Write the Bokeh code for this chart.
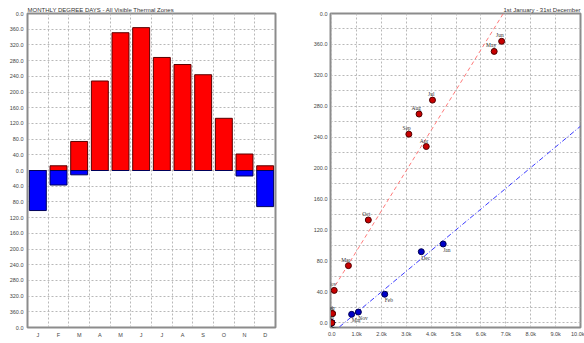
import numpy as np
from bokeh.plotting import figure
from bokeh.layouts import row
from bokeh.models import ColumnDataSource, FixedTicker, LabelSet, Range1d
from bokeh.embed import file_html
from bokeh.resources import INLINE

# ---- data ----
month_initials = ["J", "F", "M", "A", "M", "J", "J", "A", "S", "O", "N", "D"]
months = ["Jan", "Feb", "Mar", "Apr", "May", "Jun", "Jul", "Aug", "Sep", "Oct", "Nov", "Dec"]
cooling_dd = [0, 12, 74, 228, 351, 364, 288, 270, 244, 133, 42, 12]
heating_dd = [102, 37, 11, 0, 0, 0, 0, 0, 0, 0, 14, 92]
cooling_load = [0, 30, 670, 3800, 6530, 6830, 4050, 3510, 3100, 1470, 100, 30]
heating_load = [4480, 2130, 800, 0, 0, 0, 0, 0, 0, 0, 1070, 3600]
left_title = "MONTHLY DEGREE DAYS - All Visible Thermal Zones"
right_title = "1st January - 31st December"
left_y_ticks = [-400, -360, -320, -280, -240, -200, -160, -120, -80, -40, 0,
                40, 80, 120, 160, 200, 240, 280, 320, 360, 400]
left_y_labels = ["0.0", "360.0", "320.0", "280.0", "240.0", "200.0", "160.0", "120.0", "80.0", "40.0", "0.0",
                 "40.0", "80.0", "120.0", "160.0", "200.0", "240.0", "280.0", "320.0", "360.0", "0.0"]
right_y_ticks = [0, 40, 80, 120, 160, 200, 240, 280, 320, 360, 400]
right_y_labels = ["0.0", "40.0", "80.0", "120.0", "160.0", "200.0", "240.0", "280.0", "320.0", "360.0", "0.0"]
right_x_ticks = [0, 1000, 2000, 3000, 4000, 5000, 6000, 7000, 8000, 9000, 10000]
right_x_labels = ["0.0", "1.0k", "2.0k", "3.0k", "4.0k", "5.0k", "6.0k", "7.0k", "8.0k", "9.0k", "10.0k"]

FONT = "Liberation Sans"
LBL = "5.5px"
GRID = "#b8b8b8"
FRAME = "#8c8c8c"


def style(p):
    p.background_fill_color = "white"
    p.border_fill_color = "white"
    p.outline_line_color = FRAME
    p.outline_line_width = 2
    p.title.text_font = FONT
    p.title.text_font_size = "6px"
    p.title.text_font_style = "normal"
    p.title.text_color = "#333333"
    p.title.standoff = 2
    p.title.offset = 0
    for ax in (p.xaxis[0], p.yaxis[0]):
        ax.axis_line_color = FRAME
        ax.major_tick_line_color = None
        ax.minor_tick_line_color = None
        ax.major_tick_out = 0
        ax.major_tick_in = 0
        ax.minor_tick_out = 0
        ax.minor_tick_in = 0
        ax.major_label_text_font = FONT
        ax.major_label_text_font_size = LBL
        ax.major_label_text_color = "#444444"
    p.xaxis[0].major_label_standoff = 4
    p.yaxis[0].major_label_standoff = 4
    for g in (p.xgrid[0], p.ygrid[0]):
        g.grid_line_color = GRID
        g.grid_line_dash = "2 2"
        g.grid_line_width = 1


# ---- left: monthly bars ----
idx = list(range(1, 13))
src_l = ColumnDataSource(dict(x=idx, cool=cooling_dd, heat=[-v for v in heating_dd]))

p1 = figure(width=300, height=343, output_backend="svg", toolbar_location=None,
            x_range=Range1d(0.5, 12.5), y_range=Range1d(-400, 400),
            min_border_left=27, min_border_right=25, min_border_top=13, min_border_bottom=16)
p1.title.text = left_title
p1.title.align = "left"
style(p1)
p1.vbar(x="x", top="cool", bottom=0, width=0.82, source=src_l,
        fill_color="#ff0000", line_color="#5a0000", line_width=1)
p1.vbar(x="x", top=0, bottom="heat", width=0.82, source=src_l,
        fill_color="#0000ff", line_color="#00005a", line_width=1)
p1.xaxis[0].ticker = FixedTicker(ticks=idx)
p1.xaxis[0].major_label_overrides = {i: m for i, m in zip(idx, month_initials)}
p1.xgrid[0].ticker = FixedTicker(ticks=[i + 0.5 for i in idx[:-1]])
p1.yaxis[0].ticker = FixedTicker(ticks=left_y_ticks)
p1.yaxis[0].major_label_overrides = {t: l for t, l in zip(left_y_ticks, left_y_labels)}
p1.ygrid[0].ticker = FixedTicker(ticks=left_y_ticks)

# ---- right: degree days vs load ----
p2 = figure(width=284, height=343, output_backend="svg", toolbar_location=None,
            x_range=Range1d(-50, 10000), y_range=Range1d(-6, 400),
            min_border_left=30, min_border_right=4, min_border_top=13, min_border_bottom=12)
p2.title.text = right_title
p2.title.align = "right"
style(p2)
p2.yaxis[0].major_label_standoff = 3
p2.xaxis[0].major_label_standoff = 3
p2.xaxis[0].ticker = FixedTicker(ticks=right_x_ticks)
p2.xaxis[0].major_label_overrides = {t: l for t, l in zip(right_x_ticks, right_x_labels)}
p2.xgrid[0].ticker = FixedTicker(ticks=right_x_ticks)
p2.yaxis[0].ticker = FixedTicker(ticks=right_y_ticks)
p2.yaxis[0].major_label_overrides = {t: l for t, l in zip(right_y_ticks, right_y_labels)}
p2.ygrid[0].ticker = FixedTicker(ticks=list(range(0, 401, 20)))

cl = np.array(cooling_load, float)
cd = np.array(cooling_dd, float)
hl = np.array(heating_load, float)
hd = np.array(heating_dd, float)
mc = cd > 0
mh = hd > 0
bc = np.polyfit(cl[mc], cd[mc], 1)
bh = np.polyfit(hl[mh], hd[mh], 1)
xs = np.array([0.0, 10000.0])
p2.line(xs, np.polyval(bc, xs), line_color="#ff7a7a", line_dash="4 3", line_width=1)
p2.line(xs, np.polyval(bh, xs), line_color="#3a3aff", line_dash="5 2 1 2", line_width=1)

src_c = ColumnDataSource(dict(x=cooling_load, y=cooling_dd, m=months))
src_h = ColumnDataSource(dict(x=heating_load, y=heating_dd, m=months))
p2.scatter("x", "y", source=src_h, size=6, fill_color="#0000c8", line_color="#000050")
p2.scatter("x", "y", source=src_c, size=6, fill_color="#c80000", line_color="#500000")
p2.add_layout(LabelSet(x="x", y="y", text="m", source=src_c, x_offset=2, y_offset=3,
                       text_align="right", text_baseline="bottom",
                       text_font=FONT, text_font_size="5.5px", text_color="#333333"))
p2.add_layout(LabelSet(x="x", y="y", text="m", source=src_h, x_offset=0, y_offset=-3,
                       text_align="left", text_baseline="top",
                       text_font=FONT, text_font_size="5.5px", text_color="#333333"))

layout = row(p1, p2)
open("out.html", "w").write(file_html(layout, INLINE))
